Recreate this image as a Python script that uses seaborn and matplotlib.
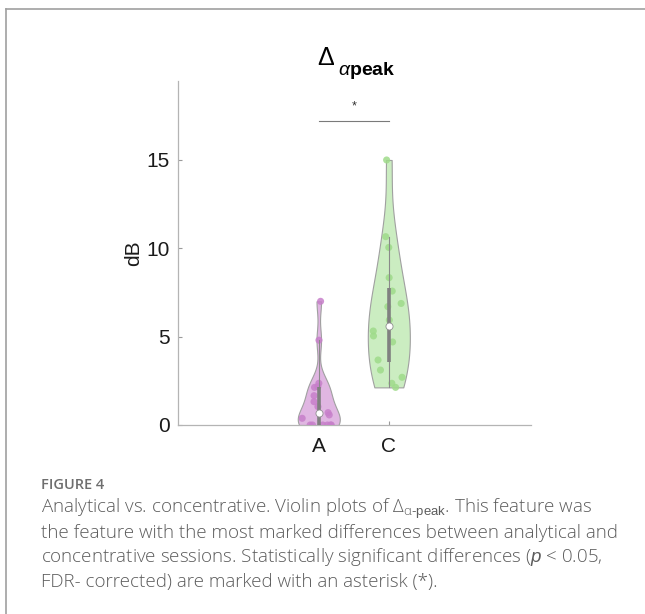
import matplotlib
matplotlib.use("Agg")
import matplotlib.pyplot as plt
from matplotlib.lines import Line2D
import numpy as np
import pandas as pd
import seaborn as sns

# values (dB)
groups = ["A", "C"]
values_a = [0.0, 0.0, 0.0, 0.0, 0.0, 0.0, 0.38, 0.57, 0.70, 1.04, 1.32,
            1.66, 2.13, 2.17, 2.36, 4.8, 7.0]
values_c = [2.13, 2.36, 2.7, 3.11, 3.68, 4.7, 5.04, 5.32, 5.94, 6.7, 6.88,
            7.58, 8.34, 10.05, 10.66, 15.0]
fill_colors = {"A": "#e0b6e2", "C": "#cbedc1"}
dot_colors = {"A": "#c77fca", "C": "#9fdb8a"}
bw_adjust = {"A": 0.6, "C": 0.85}
yticks = [0, 5, 10, 15]
sig_y = 17.2

caption_lines = [
    r"Analytical vs. concentrative. Violin plots of Δ$_{\mathregular{α}\text{-peak}}$. This feature was",
    "the feature with the most marked differences between analytical and",
    r"concentrative sessions. Statistically significant differences ($\it{p}$ < 0.05,",
    "FDR- corrected) are marked with an asterisk (*).",
]

df = pd.DataFrame({
    "group": ["A"] * len(values_a) + ["C"] * len(values_c),
    "dB": values_a + values_c,
})

W, H = 645, 614
plt.rcParams.update({
    "font.family": ["Liberation Sans", "DejaVu Sans"],
    "mathtext.fontset": "custom",
    "mathtext.rm": "Liberation Sans",
    "mathtext.it": "Liberation Sans:italic",
    "mathtext.bf": "Liberation Sans:bold",
})

fig = plt.figure(figsize=(W / 100, H / 100), dpi=100)
ax = fig.add_axes([178 / W, 1 - 425 / H, 353 / W, 344 / H])

half = 0.3
rng = np.random.default_rng(7)
for i, g in enumerate(groups):
    sub = df[df["group"] == g]
    sns.violinplot(data=sub, x="group", y="dB", order=groups, ax=ax,
                   cut=0, inner=None, density_norm="width", width=2 * half,
                   bw_method="silverman", bw_adjust=bw_adjust[g],
                   color=fill_colors[g], saturation=1, linecolor="#a0a0a0",
                   linewidth=0.8)

    # density-scaled jitter for the points
    v = sub["dB"].to_numpy()
    bw = v.std(ddof=1) * (len(v) * 3 / 4) ** -0.2 * bw_adjust[g]
    dens = np.exp(-0.5 * ((v[:, None] - v[None, :]) / bw) ** 2).sum(axis=1)
    grid = np.linspace(v.min(), v.max(), 200)
    dmax = np.exp(-0.5 * ((grid[:, None] - v[None, :]) / bw) ** 2).sum(axis=1).max()
    offs = rng.uniform(-1, 1, len(v)) * dens / dmax * half * 0.8
    sns.scatterplot(x=i + offs, y=v, ax=ax, color=dot_colors[g], s=26,
                    edgecolor="none", alpha=0.85, legend=False, zorder=3)

    # inner box: whiskers, quartile bar, median
    q1, med, q3 = np.percentile(v, [25, 50, 75])
    iqr = q3 - q1
    lo = v[v >= q1 - 1.5 * iqr].min()
    hi = v[v <= q3 + 1.5 * iqr].max()
    ax.plot([i, i], [lo, hi], color="#8a8a8a", lw=0.8, zorder=4)
    ax.plot([i, i], [q1, q3], color="#808080", lw=2.6, zorder=4,
            solid_capstyle="butt")
    ax.scatter([i], [med], s=26, color="white", edgecolor="#909090",
               linewidth=0.6, zorder=5)

# significance bar
ax.plot([0, 1], [sig_y, sig_y], color="#7a7a7a", lw=0.8)
ax.text(0.5, sig_y + 0.5, "*", ha="center", va="bottom", fontsize=9,
        color="#333333")

ax.set_xlim(-2.01, 3.03)
ax.set_ylim(0, 19.47)
ax.set_yticks(yticks)
ax.set_xlabel("")
ax.set_ylabel("dB", fontsize=15, color="#1a1a1a", labelpad=2)
for s in ["top", "right"]:
    ax.spines[s].set_visible(False)
for s in ["left", "bottom"]:
    ax.spines[s].set_color("#b4b4b4")
    ax.spines[s].set_linewidth(0.9)
ax.tick_params(axis="both", direction="in", length=3, width=0.8,
               color="#9a9a9a", labelsize=15, labelcolor="#1a1a1a")
ax.tick_params(axis="y", pad=6)
ax.tick_params(axis="x", pad=9)

# title: big delta with bold subscript
fig.text(317 / W, 1 - 65 / H, r"$\Delta$", ha="left", va="baseline",
         fontsize=18, color="black")
fig.text(338 / W, 1 - 75 / H, r"$\alpha$peak", ha="left", va="baseline",
         fontsize=14, weight="bold", color="black")

# page frame
fig.add_artist(Line2D([6 / W, 1], [1 - 9 / H, 1 - 9 / H],
                      transform=fig.transFigure, color="#a0a0a0", lw=1.2))
fig.add_artist(Line2D([6 / W, 6 / W], [0, 1 - 9 / H],
                      transform=fig.transFigure, color="#a0a0a0", lw=1.2))

# caption
fig.text(41 / W, 1 - 489 / H, "FIGURE 4", fontsize=10.5, color="#6e6e6e",
         family="Open Sans", weight="semibold", va="baseline")
for k, line in enumerate(caption_lines):
    fig.text(41 / W, 1 - (513 + 24.5 * k) / H, line, fontsize=13.5,
             color="#5c5c5c", family="Open Sans", weight="light",
             va="baseline")

fig.savefig("out.png", dpi=100)
